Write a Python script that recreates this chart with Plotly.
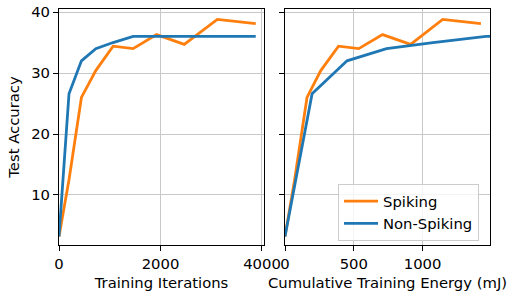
import plotly.graph_objects as go

iterations = [0, 197, 442, 725, 1066, 1461, 1923, 2468, 3120, 3877]
spiking_acc = [3.2, 12.5, 26.0, 30.4, 34.4, 34.0, 36.3, 34.7, 38.8, 38.1]
nonspiking_acc = [3.2, 26.6, 32.0, 34.0, 35.0, 36.0, 36.0, 36.0, 36.0, 36.0]

spiking_energy = [0, 70, 160, 260, 389, 536, 709, 913, 1146, 1424]
nonspiking_energy = [0, 197, 451, 738, 1075, 1461, 1923, 2468, 3120, 3877]

x_ticks_iter = [0, 2000, 4000]
x_ticks_energy = [0, 500, 1000]
y_ticks = [10, 20, 30, 40]

ORANGE = "#ff7f0e"
BLUE = "#1f77b4"
FONT = "DejaVu Sans"
FS = 14.8
LW = 2.8

fig = go.Figure()
fig.add_trace(go.Scatter(x=iterations, y=spiking_acc, mode="lines", name="Spiking",
                         line=dict(color=ORANGE, width=LW), xaxis="x", yaxis="y", showlegend=False))
fig.add_trace(go.Scatter(x=iterations, y=nonspiking_acc, mode="lines", name="Non-Spiking",
                         line=dict(color=BLUE, width=LW), xaxis="x", yaxis="y", showlegend=False))
fig.add_trace(go.Scatter(x=spiking_energy, y=spiking_acc, mode="lines", name="Spiking",
                         line=dict(color=ORANGE, width=LW), xaxis="x2", yaxis="y2"))
fig.add_trace(go.Scatter(x=nonspiking_energy, y=nonspiking_acc, mode="lines", name="Non-Spiking",
                         line=dict(color=BLUE, width=LW), xaxis="x2", yaxis="y2"))

W, H = 509, 296


def px_x(p):
    return p / W


def px_y(p):
    return 1 - p / H


axis_common = dict(showline=True, linecolor="black", linewidth=1, mirror=True,
                   showgrid=True, gridcolor="#c8c8c8", gridwidth=1.3,
                   ticks="outside", ticklen=5, tickcolor="black", tickwidth=1,
                   zeroline=False, automargin=False,
                   tickfont=dict(family=FONT, size=FS, color="black"))

yr = [1.8, 40.5]

fig.update_layout(
    width=W, height=H,
    margin=dict(l=0, r=0, t=0, b=0),
    paper_bgcolor="white", plot_bgcolor="white",
    font=dict(family=FONT, size=FS, color="black"),
    xaxis=dict(domain=[px_x(59), px_x(264)], range=[0, 4040], tickvals=x_ticks_iter,
               title=dict(text="Training Iterations", font=dict(family=FONT, size=FS), standoff=6),
               anchor="y", **axis_common),
    yaxis=dict(domain=[px_y(245), px_y(9)], range=yr, tickvals=y_ticks,
               title=dict(text="Test Accuracy", font=dict(family=FONT, size=FS), standoff=8),
               anchor="x", **axis_common),
    xaxis2=dict(domain=[px_x(285), px_x(490)], range=[0, 1490], tickvals=x_ticks_energy,
                title=dict(text="Cumulative Training Energy (mJ)", font=dict(family=FONT, size=FS), standoff=6),
                anchor="y2", **axis_common),
    yaxis2=dict(domain=[px_y(245), px_y(9)], range=yr, tickvals=y_ticks, showticklabels=False,
                anchor="x2", **axis_common),
    legend=dict(x=px_x(338), y=px_y(184), xanchor="left", yanchor="top",
                bgcolor="rgba(255,255,255,0.8)", bordercolor="#cccccc", borderwidth=1,
                itemwidth=34,
                font=dict(family=FONT, size=FS, color="black"), tracegroupgap=0),
)

fig.write_html("out.html", config={"displayModeBar": False},
               post_script="document.body.style.margin='0';")
